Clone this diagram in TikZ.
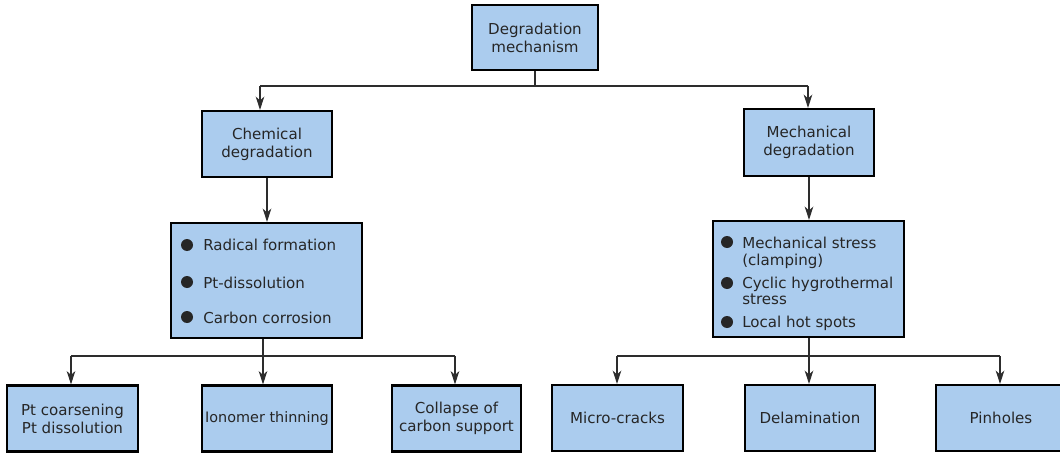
\documentclass[tikz,border=0pt]{standalone}
\usepackage{fontspec}
\setmainfont{DejaVu Sans}
\usetikzlibrary{arrows.meta}
\definecolor{boxfill}{RGB}{171,204,238}
\definecolor{linecol}{RGB}{45,45,45}
\tikzset{
  x=0.75pt, y=-0.75pt,
  box/.style 2 args={draw=black, line width=1.7pt, fill=boxfill, inner sep=0pt,
    minimum width=#1*0.75pt, minimum height=#2*0.75pt, align=center,
    font=\fontsize{11.3}{13.5}\selectfont, text=black!85},
  item/.style={anchor=base west, inner sep=0pt, font=\fontsize{11.3}{13.5}\selectfont, text=black!85},
  dot/.style={circle, fill=black!85, inner sep=0pt, minimum size=9pt},
  ln/.style={draw=linecol, line width=0.8pt},
  arr/.style={ln, -{Stealth[length=10pt,width=6.5pt,inset=3pt]}}
}
\begin{document}
\begin{tikzpicture}
\useasboundingbox (0,0) rectangle (1060,453);

% root and the two branches
\node[box={126}{65}] (root) at (535,37.5) {Degradation\\mechanism};
\node[box={130}{66}] (chem) at (267,144) {Chemical\\degradation};
\node[box={130}{67}] (mech) at (809,142.5) {Mechanical\\degradation};

% cause lists
\node[box={191}{115}] (clist) at (266.5,280.5) {};
\node[dot] (cd1) at (187,245) {};
\node[dot] (cd2) at (187,282) {};
\node[dot] (cd3) at (187,317) {};
\node[item] (ct1) at (203,250) {Radical formation};
\node[item] (ct2) at (203,288) {Pt-dissolution};
\node[item] (ct3) at (203,323) {Carbon corrosion};

\node[box={191}{116}] (mlist) at (808.5,279) {};
\node[dot] (md1) at (727,242) {};
\node[dot] (md2) at (727,283) {};
\node[dot] (md3) at (727,322) {};
\node[item] (mt1a) at (742,248) {Mechanical stress};
\node[item] (mt1b) at (742,265) {(clamping)};
\node[item] (mt2a) at (742,288) {Cyclic hygrothermal};
\node[item] (mt2b) at (742,304) {stress};
\node[item] (mt3) at (742,327) {Local hot spots};

% effects
\node[box={131}{66}] (b1) at (72.5,418.5) {Pt coarsening\\Pt dissolution};
\node[box={130}{66}, font=\fontsize{10.8}{13.5}\selectfont] (b2) at (267,418.5) {Ionomer thinning};
\node[box={129}{66}] (b3) at (456.5,418.5) {Collapse of\\carbon support};
\node[box={131}{66}] (b4) at (617.5,418) {Micro-cracks};
\node[box={130}{66}] (b5) at (810,418) {Delamination};
\node[box={130}{66}] (b6) at (1001,418) {Pinholes};

% connectors from the root
\coordinate (jl) at (260,86);
\coordinate (jr) at (808,86);
\draw[ln] (root.south) -- (root.south |- jl);
\draw[ln] (jl) -- (jr);
\draw[arr] (jl) -- (jl |- chem.north);
\draw[arr] (jr) -- (jr |- mech.north);

% branch to list
\draw[arr] (chem.south) -- (chem.south |- clist.north);
\draw[arr] (mech.south) -- (mech.south |- mlist.north);

% chemical effects
\coordinate (cs) at (263,356);
\coordinate (cl) at (71,356);
\coordinate (cr) at (455,356);
\draw[ln] (clist.south -| cs) -- (cs);
\draw[ln] (cl) -- (cr);
\draw[arr] (cl) -- (cl |- b1.north);
\draw[arr] (cs) -- (cs |- b2.north);
\draw[arr] (cr) -- (cr |- b3.north);

% mechanical effects
\coordinate (ms) at (809,356);
\coordinate (ml) at (617,356);
\coordinate (mr) at (1000,356);
\draw[ln] (mlist.south -| ms) -- (ms);
\draw[ln] (ml) -- (mr);
\draw[arr] (ml) -- (ml |- b4.north);
\draw[arr] (ms) -- (ms |- b5.north);
\draw[arr] (mr) -- (mr |- b6.north);
\end{tikzpicture}
\end{document}
